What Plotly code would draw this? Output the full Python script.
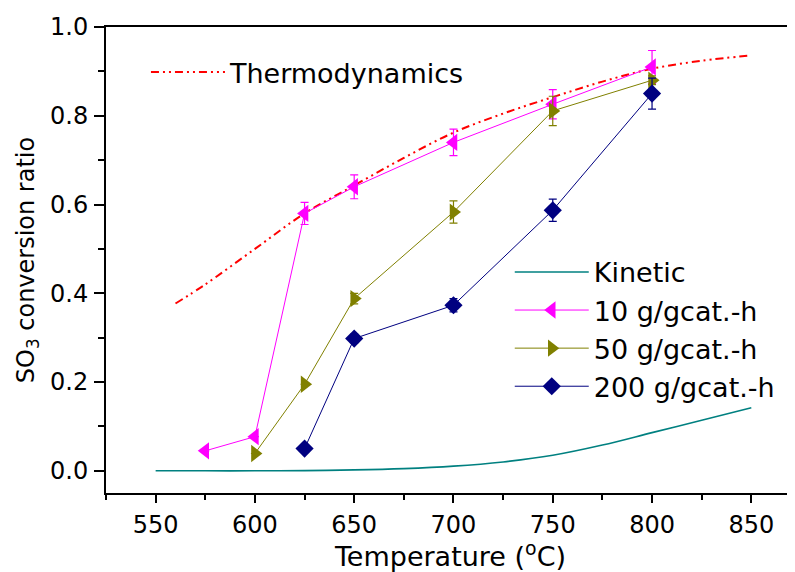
import plotly.graph_objects as go

# ---- data ----
thermo_T = [560, 575, 600, 625, 650, 675, 700, 725, 750, 775, 800, 825, 850]
thermo_y = [0.377, 0.42, 0.50, 0.58, 0.643, 0.705, 0.762, 0.805, 0.842, 0.877, 0.906, 0.924, 0.936]

kin_T = [550, 575, 600, 625, 650, 675, 700, 725, 750, 775, 800, 825, 850]
kin_y = [0.0, 0.0, 0.0, 0.0005, 0.002, 0.005, 0.0106, 0.02, 0.035, 0.058, 0.086, 0.114, 0.142]

s10_T = [575, 600, 625, 650, 700, 750, 800]
s10_y = [0.045, 0.077, 0.58, 0.64, 0.74, 0.826, 0.91]
s10_e = [0.0, 0.0, 0.025, 0.027, 0.03, 0.033, 0.037]

s50_T = [600, 625, 650, 700, 750, 800]
s50_y = [0.039, 0.195, 0.388, 0.583, 0.811, 0.88]
s50_e = [0.0, 0.0, 0.012, 0.025, 0.033, 0.01]

s200_T = [625, 650, 700, 750, 800]
s200_y = [0.05, 0.298, 0.373, 0.587, 0.85]
s200_e = [0.0, 0.01, 0.015, 0.025, 0.035]

x_ticks = [550, 600, 650, 700, 750, 800, 850]
y_ticks = [0.0, 0.2, 0.4, 0.6, 0.8, 1.0]

FONT = "DejaVu Sans, Liberation Sans, Arial, sans-serif"

fig = go.Figure()

fig.add_trace(go.Scatter(
    x=thermo_T, y=thermo_y, mode="lines", name="Thermodynamics",
    line=dict(color="#FF0000", width=2, dash="8px,4px,2px,4px,2px,4px", shape="spline"),
    legend="legend"))

fig.add_trace(go.Scatter(
    x=kin_T, y=kin_y, mode="lines", name="Kinetic",
    line=dict(color="#008080", width=1.6, shape="spline"),
    legend="legend2"))

def series(x, y, e, name, color, symbol, size):
    return go.Scatter(
        x=x, y=y, mode="lines+markers", name=name,
        line=dict(color=color, width=1),
        marker=dict(symbol=symbol, size=size, color=color, line=dict(width=0)),
        error_y=dict(type="data", array=e, visible=True, color=color, thickness=1.2, width=4),
        legend="legend2")

fig.add_trace(series(s10_T, s10_y, s10_e, "10 g/gcat.-h", "#FF00FF", "triangle-left", 15))
fig.add_trace(series(s50_T, s50_y, s50_e, "50 g/gcat.-h", "#808000", "triangle-right", 15))
fig.add_trace(series(s200_T, s200_y, s200_e, "200 g/gcat.-h", "#000080", "diamond", 14))

# the page body has an 8px margin, so the figure is 8px smaller than the window
fig.update_layout(
    width=787, height=564,
    margin=dict(l=98, r=0, t=19, b=79),
    paper_bgcolor="white", plot_bgcolor="white",
    font=dict(family=FONT, color="black", size=24),
    legend=dict(x=0.058, y=0.955, xanchor="left", yanchor="top",
                bgcolor="rgba(0,0,0,0)", font=dict(size=27, family=FONT),
                itemwidth=74),
    legend2=dict(x=0.586, y=0.526, xanchor="left", yanchor="top",
                 bgcolor="rgba(0,0,0,0)", font=dict(size=27, family=FONT),
                 itemwidth=74, tracegroupgap=0),
    showlegend=True,
)

fig.update_xaxes(
    range=[525, 872], tickvals=x_ticks, ticktext=[str(v) for v in x_ticks],
    showgrid=False, zeroline=False,
    showline=True, linecolor="black", linewidth=2, mirror=True,
    ticks="outside", ticklen=8, tickwidth=1.5, tickcolor="black",
    tickfont=dict(size=24, family=FONT), ticklabelstandoff=1,
    minor=dict(dtick=25, tick0=0, ticks="outside", ticklen=5, tickwidth=1.5, tickcolor="black", showgrid=False),
    title=dict(text="Temperature (<sup>o</sup>C)", font=dict(size=27, family=FONT), standoff=7),
)

fig.update_yaxes(
    range=[-0.05, 1.0], tickvals=y_ticks, ticktext=[f"{v:.1f}" for v in y_ticks],
    showgrid=False, zeroline=False,
    showline=True, linecolor="black", linewidth=2,
    ticks="outside", ticklen=10, tickwidth=1.5, tickcolor="black",
    tickfont=dict(size=24, family=FONT), ticklabelstandoff=1,
    minor=dict(dtick=0.1, tick0=0, ticks="outside", ticklen=6, tickwidth=1.5, tickcolor="black", showgrid=False),
    title=dict(text="SO<sub>3</sub> conversion ratio", font=dict(size=24, family=FONT), standoff=9),
)

fig.write_html("out.html")
